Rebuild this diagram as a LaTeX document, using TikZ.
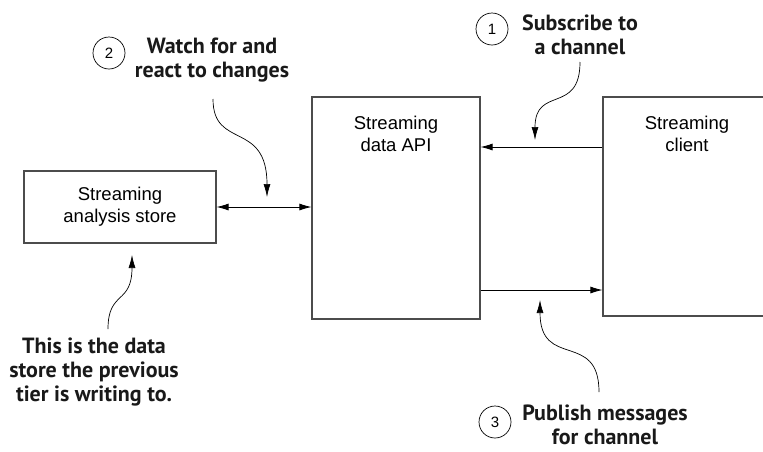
\documentclass[tikz,border=0pt]{standalone}
\usepackage{fontspec}
\setmainfont{Liberation Sans}
\newfontfamily\gillfont{PT Sans}
\usepackage{tikz}
\usetikzlibrary{arrows.meta, positioning}

\newcommand\boxfont{\fontsize{18.5}{22}\selectfont}
\newcommand\notefont{\gillfont\bfseries\fontsize{22}{24}\selectfont}
\newcommand\numfont{\fontsize{15}{18}\selectfont}

\tikzset{
  box/.style={draw=black!70, line width=1.1pt, inner sep=0pt, font=\boxfont, align=center},
  boxtext/.style={font=\boxfont, align=center},
  note/.style={font=\notefont, align=center, text=black!90},
  num/.style={circle, draw, line width=0.7pt, minimum size=32pt, inner sep=0pt, font=\numfont},
  link/.style={line width=0.8pt},
  cue/.style={line width=0.7pt, -{Latex[length=13pt,width=7pt]}}
}

\begin{document}
\begin{tikzpicture}[x=1pt, y=-1pt, >={Latex[length=12pt,width=7pt]}]
  \useasboundingbox (0,0) rectangle (763,451);
  \node[box, minimum width=192pt, minimum height=72pt] (store) at (120,207) {Streaming\\analysis store};
  \node[box, minimum width=168pt, minimum height=222pt] (api) at (396,208) {};
  \node[box, minimum width=172pt, minimum height=219pt] (client) at (689,206.5) {};
  \node[boxtext] (apitext) at (396,134) {Streaming\\data API};
  \node[boxtext] (clienttext) at (687,134) {Streaming\\client};

  \coordinate (sub) at (api.east |- 0,147);
  \coordinate (pub) at (api.east |- 0,290);
  \draw[link, <->] (store.east) -- (store.east -| api.west);
  \draw[link, ->] (client.west |- sub) -- (sub);
  \draw[link, ->] (pub) -- (client.west |- pub);

  \node[num] (n1) at (492,29) {1};
  \node[note] (l1) at (580,35) {Subscribe to\\a channel};
  \node[num] (n2) at (109,53) {2};
  \node[note] (l2) at (212,60) {Watch for and\\react to changes};
  \node[num] (n3) at (495,422) {3};
  \node[note] (l3) at (605,425) {Publish messages\\for channel};
  \node[note] (l4) at (94,372) {This is the data\\store the previous\\tier is writing to.};

  \coordinate (c1) at (580,62);  \coordinate (t1) at (535,140);
  \coordinate (c2) at (213,99);  \coordinate (t2) at (267,197);
  \coordinate (c3) at (599,392); \coordinate (t3) at (540,300);
  \coordinate (c4) at (108,329); \coordinate (t4) at (132,255);
  \draw[cue] (c1) .. controls +(0,53) and +(0,-55) .. (t1);
  \draw[cue] (c2) .. controls +(0,51) and +(0,-77) .. (t2);
  \draw[cue] (c3) .. controls +(0,-62) and +(0,70) .. (t3);
  \draw[cue] (c4) .. controls +(0,-39) and +(0,50) .. (t4);
\end{tikzpicture}
\end{document}
